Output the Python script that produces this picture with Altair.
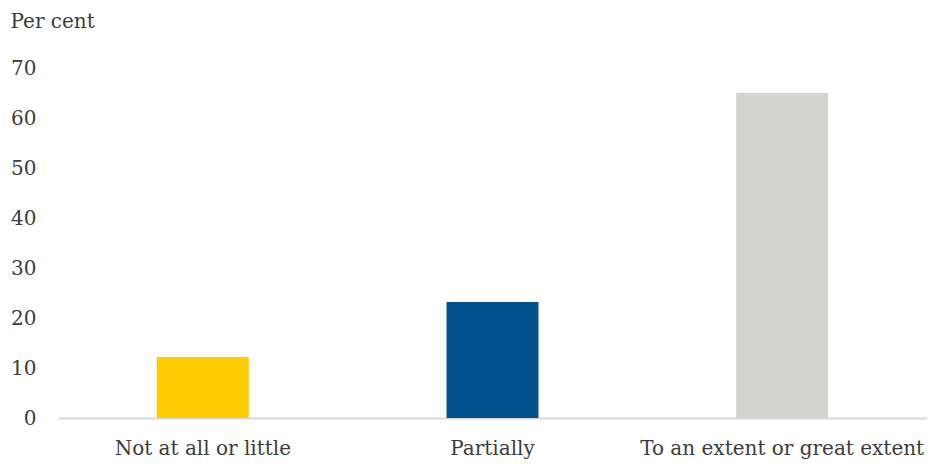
import altair as alt
import pandas as pd

categories = ["Not at all or little", "Partially", "To an extent or great extent"]
values = [12.2, 23.2, 65.0]
colors = ["#FECB00", "#02528F", "#D4D4CF"]
y_ticks = [0, 10, 20, 30, 40, 50, 60, 70]

df = pd.DataFrame({"cat": categories, "val": values})

FONT = "DejaVu Serif"
TXT = "#3C3C3C"

chart = (
    alt.Chart(df)
    .mark_bar(size=92)
    .encode(
        x=alt.X(
            "cat:N",
            sort=categories,
            scale=alt.Scale(paddingInner=0, paddingOuter=0, range=[0, 869]),
            axis=alt.Axis(
                title=None,
                labelAngle=0,
                ticks=False,
                domainColor="#D9D9D9",
                domainWidth=2,
                labelFont=FONT,
                labelFontSize=20,
                labelColor=TXT,
                labelBaseline="alphabetic",
                labelPadding=36,
                labelLimit=0,
            ),
        ),
        y=alt.Y(
            "val:Q",
            scale=alt.Scale(domain=[0, 70]),
            axis=alt.Axis(
                values=y_ticks,
                grid=False,
                domain=False,
                ticks=False,
                labelFont=FONT,
                labelFontSize=20,
                labelColor=TXT,
                labelPadding=22,
                title="Per cent",
                titleAngle=0,
                titleX=-48,
                titleY=-41,
                titleAlign="left",
                titleBaseline="alphabetic",
                titleFont=FONT,
                titleFontSize=20,
                titleFontWeight="normal",
                titleColor=TXT,
            ),
        ),
        color=alt.Color(
            "cat:N", scale=alt.Scale(domain=categories, range=colors), legend=None
        ),
    )
    .properties(
        width=869,
        height=350,
        autosize="none",
        padding={"left": 50, "top": 60, "right": 0, "bottom": 46},
    )
    .configure_view(stroke=None)
)

chart.save("out.html", embed_options={"renderer": "svg", "actions": False})
